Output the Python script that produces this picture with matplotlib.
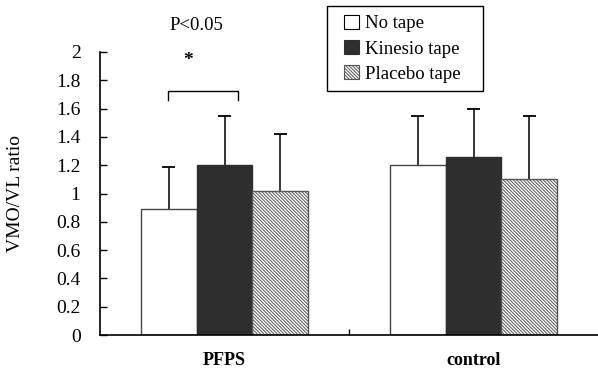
import numpy as np
import matplotlib.pyplot as plt
import matplotlib.patches as mpatches

plt.rcParams['font.family'] = ['Liberation Serif', 'DejaVu Serif']
plt.rcParams['hatch.linewidth'] = 0.7
plt.rcParams['hatch.color'] = '#555555'

groups = ["PFPS", "control"]
series = ["No tape", "Kinesio tape", "Placebo tape"]
means = {
    "No tape": [0.89, 1.20],
    "Kinesio tape": [1.20, 1.26],
    "Placebo tape": [1.02, 1.10],
}
sds = {
    "No tape": [0.30, 0.35],
    "Kinesio tape": [0.35, 0.34],
    "Placebo tape": [0.40, 0.45],
}
yticks = [0, 0.2, 0.4, 0.6, 0.8, 1, 1.2, 1.4, 1.6, 1.8, 2]
ytick_labels = ["0", "0.2", "0.4", "0.6", "0.8", "1", "1.2", "1.4", "1.6", "1.8", "2"]

fills = {"No tape": "white", "Kinesio tape": "#2e2e2e", "Placebo tape": "white"}
hatches = {"No tape": None, "Kinesio tape": None, "Placebo tape": "\\" * 10}
edges = {"No tape": "#444444", "Kinesio tape": "#2e2e2e", "Placebo tape": "#555555"}

fig = plt.figure(figsize=(5.98, 3.71), dpi=100, facecolor="white")
ax = fig.add_axes([100 / 598, 1 - 335 / 371, 498 / 598, 283 / 371])

x = np.arange(len(groups))
w = 0.224
cap = 0.026
for i, s in enumerate(series):
    xs = x + (i - 1) * w
    tops = np.array(means[s]) + np.array(sds[s])
    ax.bar(xs, means[s], w, color=fills[s], edgecolor=edges[s], hatch=hatches[s],
           linewidth=1.0, zorder=2)
    # one-sided (upper) error bars
    ax.vlines(xs, means[s], tops, color="black", lw=1.1, zorder=1)
    ax.hlines(tops, xs - cap, xs + cap, color="black", lw=1.3, zorder=1)

ax.set_xlim(-0.5, 1.5)
ax.set_ylim(0, 2)
ax.spines["top"].set_visible(False)
ax.spines["right"].set_visible(False)
ax.spines["left"].set_linewidth(1.2)
ax.spines["bottom"].set_linewidth(1.2)

ax.set_yticks(yticks)
ax.set_yticklabels(ytick_labels, fontsize=14)
ax.tick_params(axis="y", direction="in", length=5, width=1, pad=14)
ax.set_xticks(x)
ax.set_xticklabels(groups, fontsize=13, fontweight="bold")
ax.tick_params(axis="x", which="major", length=0, pad=12)
ax.set_xticks([0.5], minor=True)
ax.tick_params(axis="x", which="minor", direction="in", length=4, width=1)
ax.set_ylabel("VMO/VL ratio", fontsize=14)
ax.yaxis.set_label_coords(-0.152, 0.5)

# significance bracket
ax.plot([-0.227, -0.227, 0.054, 0.054], [1.66, 1.725, 1.725, 1.66],
        color="black", lw=1, clip_on=False)
ax.text(-0.147, 1.94, "*", fontsize=14, fontweight="bold", ha="center", va="center")
ax.text(-0.114, 2.19, "P<0.05", fontsize=13.5, ha="center", va="center", clip_on=False)

# legend: frameless entries inside a hand-drawn box
handles = [mpatches.Patch(facecolor=fills[s], edgecolor=edges[s] if s != "No tape" else "black",
                          hatch=hatches[s], linewidth=0.8) for s in series]
leg = ax.legend(handles, series, loc="upper left", bbox_to_anchor=(0.49, 1.132),
                fontsize=13.5, frameon=False, handlelength=0.8,
                handleheight=0.8, handletextpad=0.3, borderpad=0,
                labelspacing=0.4, borderaxespad=0)
box = mpatches.Rectangle((0.456, 0.862), 0.313, 0.301, transform=ax.transAxes,
                         facecolor="white", edgecolor="black", lw=1.0,
                         clip_on=False, zorder=4)
ax.add_patch(box)
leg.set_zorder(5)

fig.savefig("out.png", dpi=100, facecolor="white")
